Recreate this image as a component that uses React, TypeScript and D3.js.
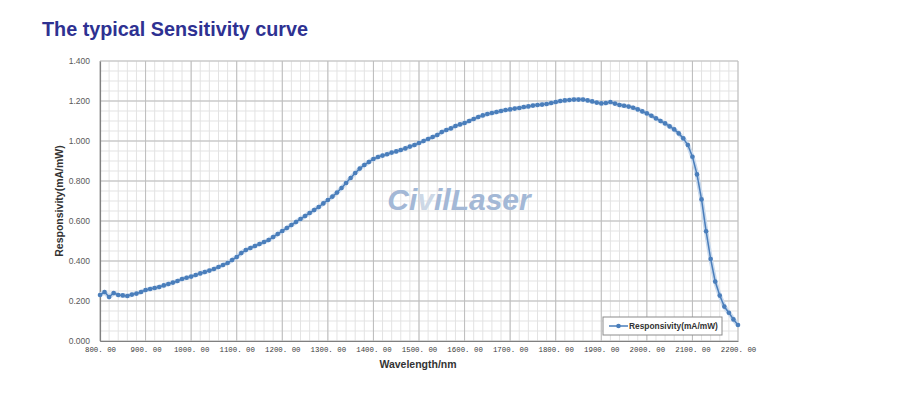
import { useEffect, useRef } from 'react';
import * as d3 from 'd3';

const wavelengths: number[] = d3.range(800, 2201, 10);
const responsivity: number[] = [
  0.23, 0.245, 0.22, 0.24, 0.23, 0.228, 0.225, 0.232, 0.237, 0.245,
  0.255, 0.26, 0.265, 0.27, 0.278, 0.285, 0.292, 0.3, 0.31, 0.316,
  0.322, 0.33, 0.338, 0.345, 0.352, 0.36, 0.37, 0.38, 0.39, 0.405,
  0.42, 0.44, 0.455, 0.465, 0.475, 0.485, 0.495, 0.505, 0.52, 0.535,
  0.55, 0.565, 0.58, 0.595, 0.61, 0.625, 0.64, 0.655, 0.67, 0.688,
  0.705, 0.722, 0.742, 0.765, 0.79, 0.815, 0.84, 0.862, 0.88, 0.895,
  0.91, 0.92, 0.927, 0.934, 0.942, 0.948, 0.955, 0.963, 0.972, 0.98,
  0.99, 1.0, 1.01, 1.02, 1.03, 1.045, 1.055, 1.063, 1.075, 1.083,
  1.09, 1.1, 1.11, 1.12, 1.128, 1.135, 1.14, 1.145, 1.15, 1.155,
  1.158, 1.162, 1.165, 1.17, 1.173, 1.177, 1.18, 1.182, 1.185, 1.19,
  1.195, 1.2, 1.203, 1.205, 1.207, 1.207, 1.207, 1.203, 1.198, 1.192,
  1.188, 1.19, 1.195, 1.187, 1.18, 1.176, 1.172, 1.166, 1.158, 1.148,
  1.138, 1.126, 1.113, 1.1, 1.088, 1.073, 1.058, 1.038, 1.013, 0.98,
  0.921, 0.833, 0.708, 0.549, 0.41, 0.297, 0.227, 0.172, 0.141, 0.108,
  0.08,
];
const xTicks: number[] = d3.range(800, 2201, 100);
const yTicks: number[] = d3.range(0, 1.4001, 0.2);
const seriesName = 'Responsivity(mA/mW)';

export default function App() {
  const ref = useRef<SVGSVGElement>(null);

  useEffect(() => {
    const svg = d3.select(ref.current);
    svg.selectAll('*').remove();

    const width = 919, height = 399;
    const margin = { top: 61, right: 181, bottom: 58, left: 100 };
    const x = d3.scaleLinear().domain([800, 2200]).range([margin.left, width - margin.right]);
    const y = d3.scaleLinear().domain([0, 1.4]).range([height - margin.bottom, margin.top]);

    svg.append('rect').attr('width', width).attr('height', height).attr('fill', '#fff');

    svg.append('text')
      .attr('x', 42).attr('y', 36)
      .attr('font-family', 'Liberation Sans, Arial, sans-serif')
      .attr('font-weight', 'bold').attr('font-size', 19.8)
      .attr('fill', '#2e3192')
      .text('The typical Sensitivity curve');

    const grid = svg.append('g');
    // minor grid
    d3.range(800, 2201, 20).forEach(v => {
      grid.append('line').attr('x1', x(v)).attr('x2', x(v)).attr('y1', y(0)).attr('y2', y(1.4))
        .attr('stroke', '#e3e3e3').attr('stroke-width', 1);
    });
    d3.range(0, 1.4001, 0.05).forEach(v => {
      grid.append('line').attr('x1', x(800)).attr('x2', x(2200)).attr('y1', y(v)).attr('y2', y(v))
        .attr('stroke', '#e3e3e3').attr('stroke-width', 1);
    });
    // major grid
    xTicks.forEach(v => {
      grid.append('line').attr('x1', x(v)).attr('x2', x(v)).attr('y1', y(0)).attr('y2', y(1.4))
        .attr('stroke', '#bdbdbd').attr('stroke-width', 1);
    });
    yTicks.forEach(v => {
      grid.append('line').attr('x1', x(800)).attr('x2', x(2200)).attr('y1', y(v)).attr('y2', y(v))
        .attr('stroke', '#bdbdbd').attr('stroke-width', 1);
    });

    const xAxis = svg.append('g').attr('transform', `translate(0,${y(0)})`)
      .call(d3.axisBottom(x).tickValues(xTicks).tickSize(0).tickPadding(6)
        .tickFormat(d => d3.format('.2f')(d as number).replace('.', '. ')));
    xAxis.select('.domain').attr('stroke', '#808080').attr('stroke-width', 1.2);
    xAxis.selectAll('text').attr('font-family', 'Liberation Mono, monospace').attr('font-size', 7.4).attr('fill', '#3a3a3a');

    const yAxis = svg.append('g').attr('transform', `translate(${x(800)},0)`)
      .call(d3.axisLeft(y).tickValues(yTicks).tickSize(0).tickPadding(10).tickFormat(d3.format('.3f')));
    yAxis.select('.domain').attr('stroke', '#808080').attr('stroke-width', 1.2);
    yAxis.selectAll('text').attr('font-family', 'Liberation Sans, Arial, sans-serif').attr('font-size', 8.5).attr('fill', '#595959');

    svg.append('text')
      .attr('transform', `translate(63,${(y(0) + y(1.4)) / 2}) rotate(-90)`)
      .attr('text-anchor', 'middle')
      .attr('font-family', 'Liberation Sans, Arial, sans-serif')
      .attr('font-weight', 'bold').attr('font-size', 10.5).attr('fill', '#333')
      .text(seriesName);

    svg.append('text')
      .attr('x', 418).attr('y', 368)
      .attr('text-anchor', 'middle')
      .attr('font-family', 'Liberation Sans, Arial, sans-serif')
      .attr('font-weight', 'bold').attr('font-size', 10.5).attr('fill', '#333')
      .text('Wavelength/nm');

    // watermark
    const wm = svg.append('text')
      .attr('x', 459).attr('y', 210)
      .attr('text-anchor', 'middle')
      .attr('font-family', 'Liberation Sans, Arial, sans-serif')
      .attr('font-weight', 'bold').attr('font-style', 'italic').attr('font-size', 30)
      .attr('fill', '#a3b8d6');
    wm.append('tspan').text('Ci');
    wm.append('tspan').attr('fill', '#cdd8e6').text('v');
    wm.append('tspan').text('ilLaser');

    const pts = wavelengths.map((w, i) => [w, responsivity[i]] as [number, number]);
    const line = d3.line<[number, number]>().x(d => x(d[0])).y(d => y(d[1]));

    svg.append('path').attr('d', line(pts)).attr('fill', 'none')
      .attr('stroke', '#c9d9ec').attr('stroke-width', 4.5).attr('stroke-linejoin', 'round');
    svg.append('path').attr('d', line(pts)).attr('fill', 'none')
      .attr('stroke', '#4a7ebb').attr('stroke-width', 1.5);
    svg.append('g').selectAll('circle').data(pts).join('circle')
      .attr('cx', d => x(d[0])).attr('cy', d => y(d[1])).attr('r', 2.3)
      .attr('fill', '#4a7ebb');

    // legend
    const lg = svg.append('g').attr('transform', 'translate(603,317)');
    lg.append('rect').attr('width', 119).attr('height', 18).attr('fill', '#fff')
      .attr('stroke', '#8c8c8c').attr('stroke-width', 1);
    lg.append('line').attr('x1', 6).attr('x2', 25).attr('y1', 9).attr('y2', 9)
      .attr('stroke', '#4a7ebb').attr('stroke-width', 1.5);
    lg.append('circle').attr('cx', 15.5).attr('cy', 9).attr('r', 2.3).attr('fill', '#4a7ebb');
    lg.append('text').attr('x', 26).attr('y', 12)
      .attr('font-family', 'Liberation Sans, Arial, sans-serif')
      .attr('font-weight', 'bold').attr('font-size', 8.4).attr('fill', '#333')
      .text(seriesName);
  }, []);

  return <svg ref={ref} width={919} height={399} style={{ display: 'block', position: 'absolute', left: 0, top: 0 }} />;
}
